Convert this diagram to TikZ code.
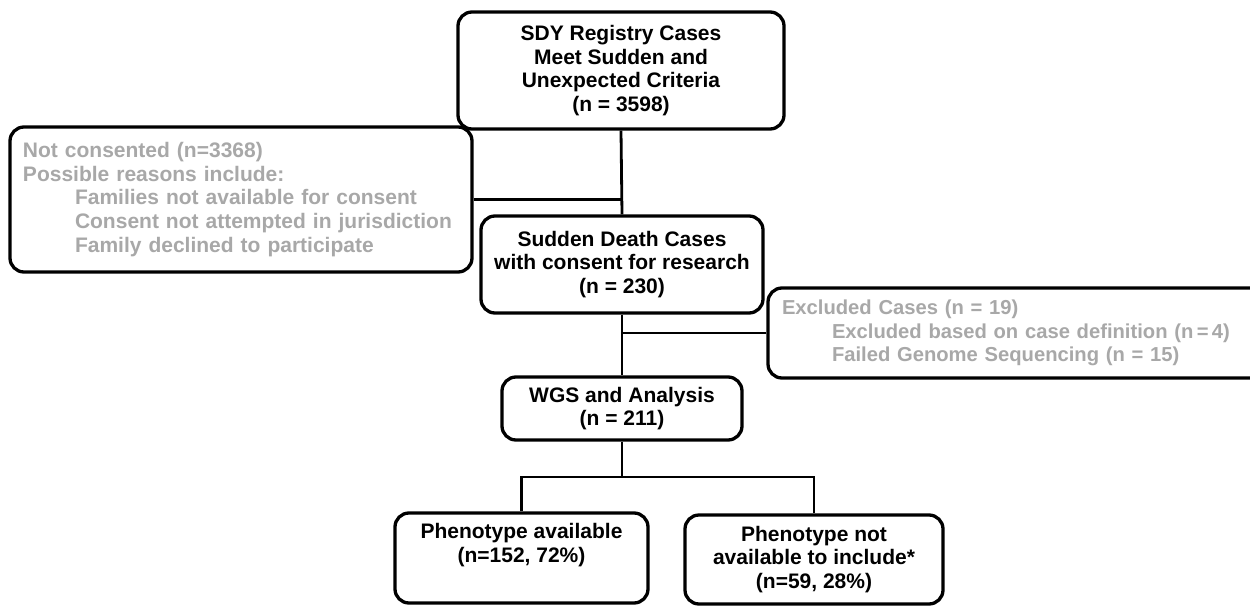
\documentclass[tikz,border=0pt]{standalone}
\usepackage{fontspec}
\setmainfont{Liberation Sans}
\definecolor{greytext}{RGB}{168,168,168}
\tikzset{
  box/.style={draw=black, line width=3.3pt, rounded corners=14pt, fill=white,
    align=center, inner sep=0pt, font=\fontsize{21}{23.6}\selectfont\bfseries},
  greybox/.style={box, align=left, text=greytext, inner ysep=0pt},
  conn/.style={draw=black, line width=2.8pt}
}
\begin{document}
\begin{tikzpicture}[x=1pt,y=-1pt]
\clip (0,0) rectangle (1250,605);
\fill[white] (0,0) rectangle (1250,605);
\node[box, minimum width=326pt, minimum height=117pt] (top) at (621,70.5)
  {SDY Registry Cases\\Meet Sudden and\\Unexpected Criteria\\(n = 3598)};
\node[greybox, minimum height=145pt, inner xsep=13pt, text width=436pt] (notc) at (241,199.5)
  {Not consented (n=3368)\\Possible reasons include:\\
   \hspace*{52pt}Families not available for consent\\
   \hspace*{52pt}Consent not attempted in jurisdiction\\
   \hspace*{52pt}Family declined to participate};
\node[box, minimum width=282pt, minimum height=97pt] (cons) at (622,264.5)
  {Sudden Death Cases\\with consent for research\\(n = 230)};
\node[greybox, minimum height=90pt, inner xsep=14pt, text width=472pt,
      font=\fontsize{20.2}{23.6}\selectfont\bfseries] (exc) at (1018,333)
  {Excluded Cases (n = 19)\\
   \hspace*{50pt}Excluded based on case definition (n\,=\,4)\\
   \hspace*{50pt}Failed Genome Sequencing (n = 15)};
\node[box, minimum width=240pt, minimum height=63pt] (wgs) at (622,408.5)
  {WGS and Analysis\\(n = 211)};
\node[box, minimum width=253pt, minimum height=90pt] (pa) at (521.5,558)
  {Phenotype available\\(n=152, 72\%)\\\strut};
\node[box, minimum width=258pt, minimum height=89pt] (pnp) at (814,559.5)
  {Phenotype not\\available to include*\\(n=59, 28\%)};
\coordinate (split) at (622,477);
\draw[conn] (top.south) -- (cons.north);
\draw[conn] (notc.east) -- (notc.east -| top.south);
\draw[conn] (cons.south) -- (wgs.north);
\draw[conn] (exc.west) -- (exc.west -| cons.south);
\draw[conn] (wgs.south) -- (split);
\draw[conn] (pa.north) -- (pa.north |- split) -- (pnp.north |- split) -- (pnp.north);
\end{tikzpicture}
\end{document}
